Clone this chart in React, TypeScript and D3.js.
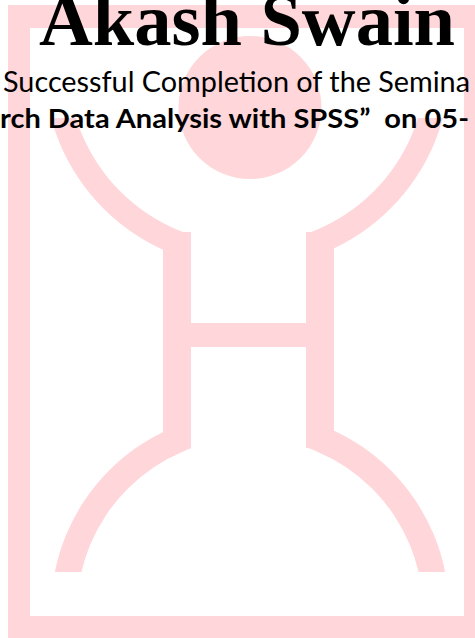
import React from 'react';
import * as d3 from 'd3';

// text shown on the certificate fragment
const titleText = ['Akash Swain'];
const bodyLines = ['Successful Completion of the Semina', 'rch Data Analysis with SPSS\u201D  on 05-'];
const bodyWeights = [400, 700];

const W = 475;
const H = 638;
const PINK = '#ffd6d9';

// watermark geometry
const headC = { x: 250, y: 107.5, r: 71.5 };
const upper = { x: 247, y: 65, r0: 179, r1: 203, cutY: 118 };
const lower = { x: 250, y: 611, r0: 173, r1: 199, cutY: 572 };
const stemL = [163, 191];
const stemR = [306, 334];

const App = () => {
  const ring = (r0: number, r1: number) =>
    d3.arc()({ innerRadius: r0, outerRadius: r1, startAngle: 0, endAngle: 2 * Math.PI }) || '';

  const headPath = d3.arc()({ innerRadius: 0, outerRadius: headC.r, startAngle: 0, endAngle: 2 * Math.PI }) || '';

  return (
    <svg width={W} height={H} style={{ position: 'absolute', left: 0, top: 0, background: '#fff' }}>
      <defs>
        <clipPath id="clipUpper">
          <rect x={0} y={upper.cutY} width={stemL[1]} height={200} />
          <rect x={stemR[0]} y={upper.cutY} width={W - stemR[0]} height={200} />
        </clipPath>
        <clipPath id="clipLower">
          <rect x={0} y={380} width={stemL[1]} height={lower.cutY - 380} />
          <rect x={stemR[0]} y={380} width={W - stemR[0]} height={lower.cutY - 380} />
        </clipPath>
      </defs>

      {/* frame */}
      <path d="M8,5H500V660H8Z M30,28V616H464V28Z" fill={PINK} fillRule="evenodd" />

      {/* head */}
      <path d={headPath} transform={`translate(${headC.x},${headC.y})`} fill={PINK} />

      {/* arms + base */}
      <g clipPath="url(#clipUpper)">
        <path d={ring(upper.r0, upper.r1)} transform={`translate(${upper.x},${upper.y})`} fill={PINK} />
      </g>
      <g clipPath="url(#clipLower)">
        <path d={ring(lower.r0, lower.r1)} transform={`translate(${lower.x},${lower.y})`} fill={PINK} />
      </g>

      {/* stems and crossbar */}
      <rect x={stemL[0]} y={232} width={stemL[1] - stemL[0]} height={216} fill={PINK} />
      <rect x={stemR[0]} y={232} width={stemR[1] - stemR[0]} height={216} fill={PINK} />
      <rect x={stemL[1]} y={323} width={stemR[0] - stemL[1]} height={24} fill={PINK} />

      {/* texts */}
      <text
        x={39}
        y={45}
        fontFamily="'Liberation Serif', 'Times New Roman', serif"
        fontWeight={700}
        fontSize={74}
        textLength={416}
        lengthAdjust="spacingAndGlyphs"
        fill="#000"
      >
        {titleText[0]}
      </text>
      {bodyLines.map((t, i) => (
        <text
          key={i}
          x={i === 0 ? 3 : 0}
          y={i === 0 ? 92 : 128}
          fontFamily="Lato, 'Open Sans', sans-serif"
          fontWeight={bodyWeights[i]}
          fontSize={i === 0 ? 29.5 : 27.5}
          textLength={i === 0 ? 467 : 469}
          lengthAdjust="spacingAndGlyphs"
          fill="#000"
          style={{ whiteSpace: 'pre' }}
        >
          {t}
        </text>
      ))}
    </svg>
  );
};

export default App;
